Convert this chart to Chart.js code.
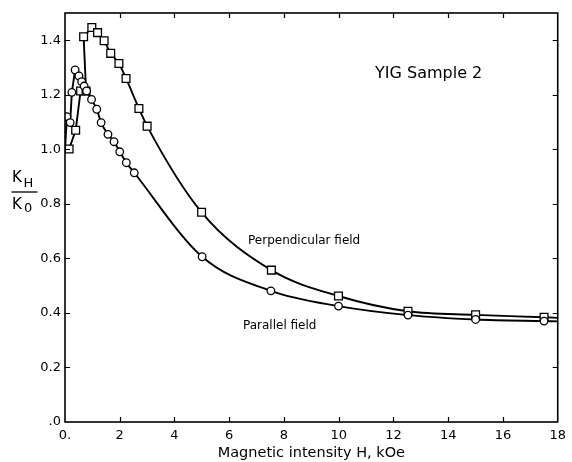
<!DOCTYPE html>
<html><head><meta charset="utf-8">
<script src="https://cdn.jsdelivr.net/npm/chart.js@4.4.0/dist/chart.umd.min.js"></script>
<style>html,body{margin:0;padding:0;background:#fff;}canvas{display:block;}</style>
</head><body>
<canvas id="c" width="572" height="462"></canvas>
<script>
// ---- data ----
const xTicks = [0, 2, 4, 6, 8, 10, 12, 14, 16, 18];
const xTickLabels = ['0.', '2', '4', '6', '8', '10', '12', '14', '16', '18'];
const yTicks = [0, 0.2, 0.4, 0.6, 0.8, 1.0, 1.2, 1.4];
const yTickLabels = ['.0', '0.2', '0.4', '0.6', '0.8', '1.0', '1.2', '1.4'];

// Parallel field (circles)
const parX = [0.07, 0.19, 0.25, 0.37, 0.51, 0.61, 0.70, 0.79, 0.97, 1.16, 1.32, 1.57, 1.79, 2.00, 2.24, 2.53, 5.01, 7.52, 9.99, 12.53, 15.0, 17.5];
const parY = [1.120, 1.098, 1.209, 1.291, 1.269, 1.248, 1.232, 1.214, 1.183, 1.147, 1.098, 1.055, 1.028, 0.991, 0.951, 0.914, 0.606, 0.481, 0.425, 0.392, 0.376, 0.370];
const parStart = [0, 1.0];
const parEnd = [18, 0.369];
const parPeak = 3;

// Perpendicular field (squares)
const perpX = [0.15, 0.39, 0.57, 0.77, 0.68, 0.98, 1.19, 1.43, 1.67, 1.97, 2.23, 2.70, 3.00, 4.99, 7.54, 9.99, 12.53, 15.0, 17.5];
const perpY = [1.001, 1.070, 1.214, 1.214, 1.413, 1.447, 1.428, 1.398, 1.352, 1.315, 1.260, 1.150, 1.085, 0.769, 0.557, 0.462, 0.406, 0.393, 0.384];
const perpEnd = [18, 0.382];
const perpPeak = 5;

// ---- build datasets ----
const pts = (xs, ys) => xs.map((x, i) => ({x: x, y: ys[i]}));
const parPts = pts(parX, parY);
const perpPts = pts(perpX, perpY);
const FONT = 'DejaVu Sans';

const lineBase = {borderColor: '#000', borderWidth: 1.9, pointRadius: 0, fill: false, showLine: true};
const smooth = {tension: 0.4, cubicInterpolationMode: 'monotone'};
const datasets = [
  // markers (drawn on top: first datasets are drawn last)
  {data: parPts, showLine: false, pointStyle: 'circle', pointRadius: 3.8, pointBackgroundColor: '#fff', pointBorderColor: '#000', pointBorderWidth: 1.3},
  {data: perpPts, showLine: false, pointStyle: 'rect', pointRadius: 5.5, pointBackgroundColor: '#fff', pointBorderColor: '#000', pointBorderWidth: 1.3},
  // lines
  Object.assign({}, lineBase, {data: [{x: parStart[0], y: parStart[1]}].concat(parPts.slice(0, parPeak + 1)), tension: 0}),
  Object.assign({}, lineBase, smooth, {data: parPts.slice(parPeak).concat([{x: parEnd[0], y: parEnd[1]}])}),
  Object.assign({}, lineBase, {data: perpPts.slice(0, perpPeak + 1), tension: 0}),
  Object.assign({}, lineBase, smooth, {data: perpPts.slice(perpPeak).concat([{x: perpEnd[0], y: perpEnd[1]}])}),
];

const framePlugin = {
  id: 'frame',
  afterDraw(chart) {
    const ctx = chart.ctx, a = chart.chartArea;
    const xs = chart.scales.x, ys = chart.scales.y;
    ctx.save();
    ctx.strokeStyle = '#000';
    ctx.lineWidth = 1.6;
    ctx.strokeRect(a.left, a.top, a.right - a.left, a.bottom - a.top);
    ctx.lineWidth = 1.2;
    const tl = 5;
    ctx.beginPath();
    xTicks.forEach(v => {
      if (v <= xs.min || v >= xs.max) return;
      const px = Math.round(xs.getPixelForValue(v)) + 0.5;
      ctx.moveTo(px, a.bottom); ctx.lineTo(px, a.bottom - tl);
      ctx.moveTo(px, a.top); ctx.lineTo(px, a.top + tl);
    });
    yTicks.forEach(v => {
      if (v <= ys.min || v >= ys.max) return;
      const py = Math.round(ys.getPixelForValue(v)) + 0.5;
      ctx.moveTo(a.left, py); ctx.lineTo(a.left + tl, py);
      ctx.moveTo(a.right, py); ctx.lineTo(a.right - tl, py);
    });
    ctx.stroke();

    // annotations
    ctx.fillStyle = '#000';
    ctx.textBaseline = 'alphabetic';
    ctx.textAlign = 'left';
    ctx.font = '16px "' + FONT + '"';
    ctx.fillText('YIG Sample 2', 375, 78);
    ctx.font = '12px "' + FONT + '"';
    ctx.fillText('Perpendicular field', 248, 244);
    ctx.fillText('Parallel field', 243, 329);

    // y-axis title  K_H / K_0
    ctx.font = '15px "' + FONT + '"';
    ctx.fillText('K', 12, 182);
    ctx.fillText('K', 12, 208.5);
    ctx.font = '13px "' + FONT + '"';
    ctx.fillText('H', 23.5, 186.5);
    ctx.fillText('0', 24, 212);
    ctx.lineWidth = 1.3;
    ctx.beginPath();
    ctx.moveTo(11.5, 192); ctx.lineTo(37.5, 192);
    ctx.stroke();
    ctx.restore();
  }
};

new Chart(document.getElementById('c'), {
  type: 'scatter',
  data: {datasets: datasets},
  options: {
    responsive: false,
    animation: false,
    devicePixelRatio: 1,
    layout: {padding: {top: 13, right: 4, left: 0, bottom: 0}},
    plugins: {legend: {display: false}, tooltip: {enabled: false}},
    scales: {
      x: {
        type: 'linear', min: 0, max: 18,
        afterBuildTicks: s => { s.ticks = xTicks.map(v => ({value: v})); },
        afterFit: s => { s.height = 40; },
        grid: {display: false, drawTicks: false},
        border: {display: false},
        ticks: {
          color: '#000', padding: 6, maxRotation: 0, autoSkip: false,
          font: {family: FONT, size: 13},
          callback: v => xTickLabels[xTicks.indexOf(v)]
        },
        title: {display: true, text: 'Magnetic intensity H, kOe', color: '#000', padding: {top: 0, bottom: 0}, font: {family: FONT, size: 14.5}}
      },
      y: {
        type: 'linear', min: 0, max: 1.5,
        afterBuildTicks: s => { s.ticks = yTicks.map(v => ({value: v})); },
        afterFit: s => { s.width = 65; },
        grid: {display: false, drawTicks: false},
        border: {display: false},
        ticks: {
          color: '#000', padding: 4, autoSkip: false,
          font: {family: FONT, size: 13},
          callback: v => yTickLabels[yTicks.indexOf(v)]
        }
      }
    }
  },
  plugins: [framePlugin]
});
</script>
</body></html>
